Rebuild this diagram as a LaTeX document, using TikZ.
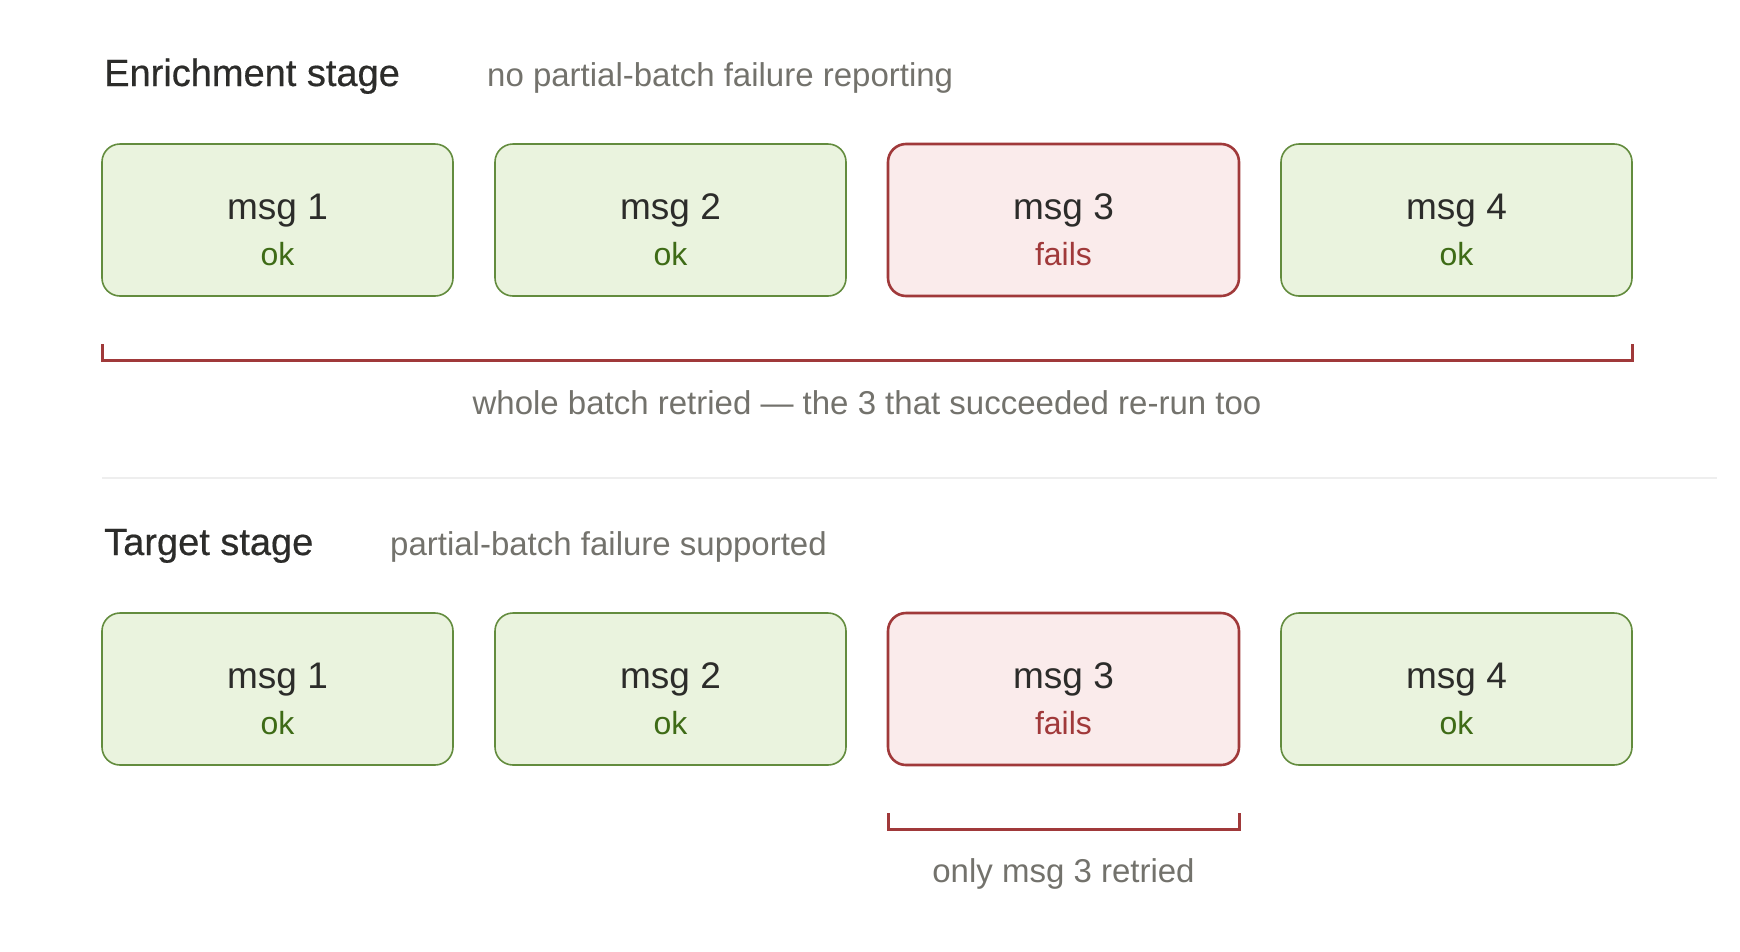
\documentclass[tikz,border=0pt]{standalone}
\usepackage{fontspec}
\setmainfont{Liberation Sans}
\newfontfamily\titlefont{Liberation Sans}[FakeBold=0.5]
\usepackage{xcolor}
\usepackage{tikz}
\usetikzlibrary{positioning}

\definecolor{okfill}{HTML}{EAF3DE}
\definecolor{okline}{HTML}{638C3E}
\definecolor{oktext}{HTML}{3E6B16}
\definecolor{badfill}{HTML}{FAEBEB}
\definecolor{badline}{HTML}{A0393A}
\definecolor{msgtext}{HTML}{2C2C2A}
\definecolor{subtext}{HTML}{73726C}
\definecolor{sepline}{HTML}{EEEEEE}

\begin{document}
\begin{tikzpicture}[
    x=1pt, y=-1pt,
    node distance=42pt,
    msg/.style={rectangle, rounded corners=18pt, minimum width=351pt, minimum height=152pt, outer sep=0pt, inner sep=0pt, text height=26pt, text depth=28pt, font=\fontsize{37}{44}\selectfont, text=msgtext},
    okbox/.style={msg, draw=okline, fill=okfill, line width=1.6pt},
    failbox/.style={msg, draw=badline, fill=badfill, line width=2.6pt},
    status/.style={anchor=base, inner sep=0pt, font=\fontsize{32}{40}\selectfont},
    stagetitle/.style={anchor=base west, inner sep=0pt, font=\titlefont\fontsize{38}{44}\selectfont, text=msgtext},
    stagenote/.style={anchor=base west, inner sep=0pt, font=\fontsize{33}{40}\selectfont, text=subtext},
    retrynote/.style={anchor=base, inner sep=0pt, font=\fontsize{33}{40}\selectfont, text=subtext},
    bracket/.style={draw=badline, line width=3pt}
]
    \useasboundingbox (0,0) rectangle (1740,951);

    % Enrichment stage
    \node[stagetitle] (etitle) at (104,86) {Enrichment stage};
    \node[stagenote] (enote) at (487,86) {no partial-batch failure reporting};
    \node[okbox] (e1) at (277.5,220) {msg 1};
    \node[okbox, right=of e1] (e2) {msg 2};
    \node[failbox, right=of e2] (e3) {msg 3};
    \node[okbox, right=of e3] (e4) {msg 4};
    \node[status, text=oktext] (e1s) at ([yshift=-45pt]e1.center) {ok};
    \node[status, text=oktext] (e2s) at ([yshift=-45pt]e2.center) {ok};
    \node[status, text=badline] (e3s) at ([yshift=-45pt]e3.center) {fails};
    \node[status, text=oktext] (e4s) at ([yshift=-45pt]e4.center) {ok};

    % whole batch goes back
    \draw[bracket] ([yshift=-48pt]e1.south west) -- ([yshift=-64pt]e1.south west)
        -- ([yshift=-64pt]e4.south east) -- ([yshift=-48pt]e4.south east);
    \node[retrynote] (eretry) at (867,414) {whole batch retried — the 3 that succeeded re-run too};

    % divider
    \draw[sepline, line width=1.5pt] (102,478) -- (1717,478);

    % Target stage
    \node[stagetitle] (ttitle) at (104,555) {Target stage};
    \node[stagenote] (tnote) at (390,555) {partial-batch failure supported};
    \node[okbox] (t1) at (277.5,689) {msg 1};
    \node[okbox, right=of t1] (t2) {msg 2};
    \node[failbox, right=of t2] (t3) {msg 3};
    \node[okbox, right=of t3] (t4) {msg 4};
    \node[status, text=oktext] (t1s) at ([yshift=-45pt]t1.center) {ok};
    \node[status, text=oktext] (t2s) at ([yshift=-45pt]t2.center) {ok};
    \node[status, text=badline] (t3s) at ([yshift=-45pt]t3.center) {fails};
    \node[status, text=oktext] (t4s) at ([yshift=-45pt]t4.center) {ok};

    % only the failed one goes back
    \draw[bracket] ([yshift=-48pt]t3.south west) -- ([yshift=-64pt]t3.south west)
        -- ([yshift=-64pt]t3.south east) -- ([yshift=-48pt]t3.south east);
    \node[retrynote] (tretry) at (t3 |- 0,882) {only msg 3 retried};
\end{tikzpicture}
\end{document}
